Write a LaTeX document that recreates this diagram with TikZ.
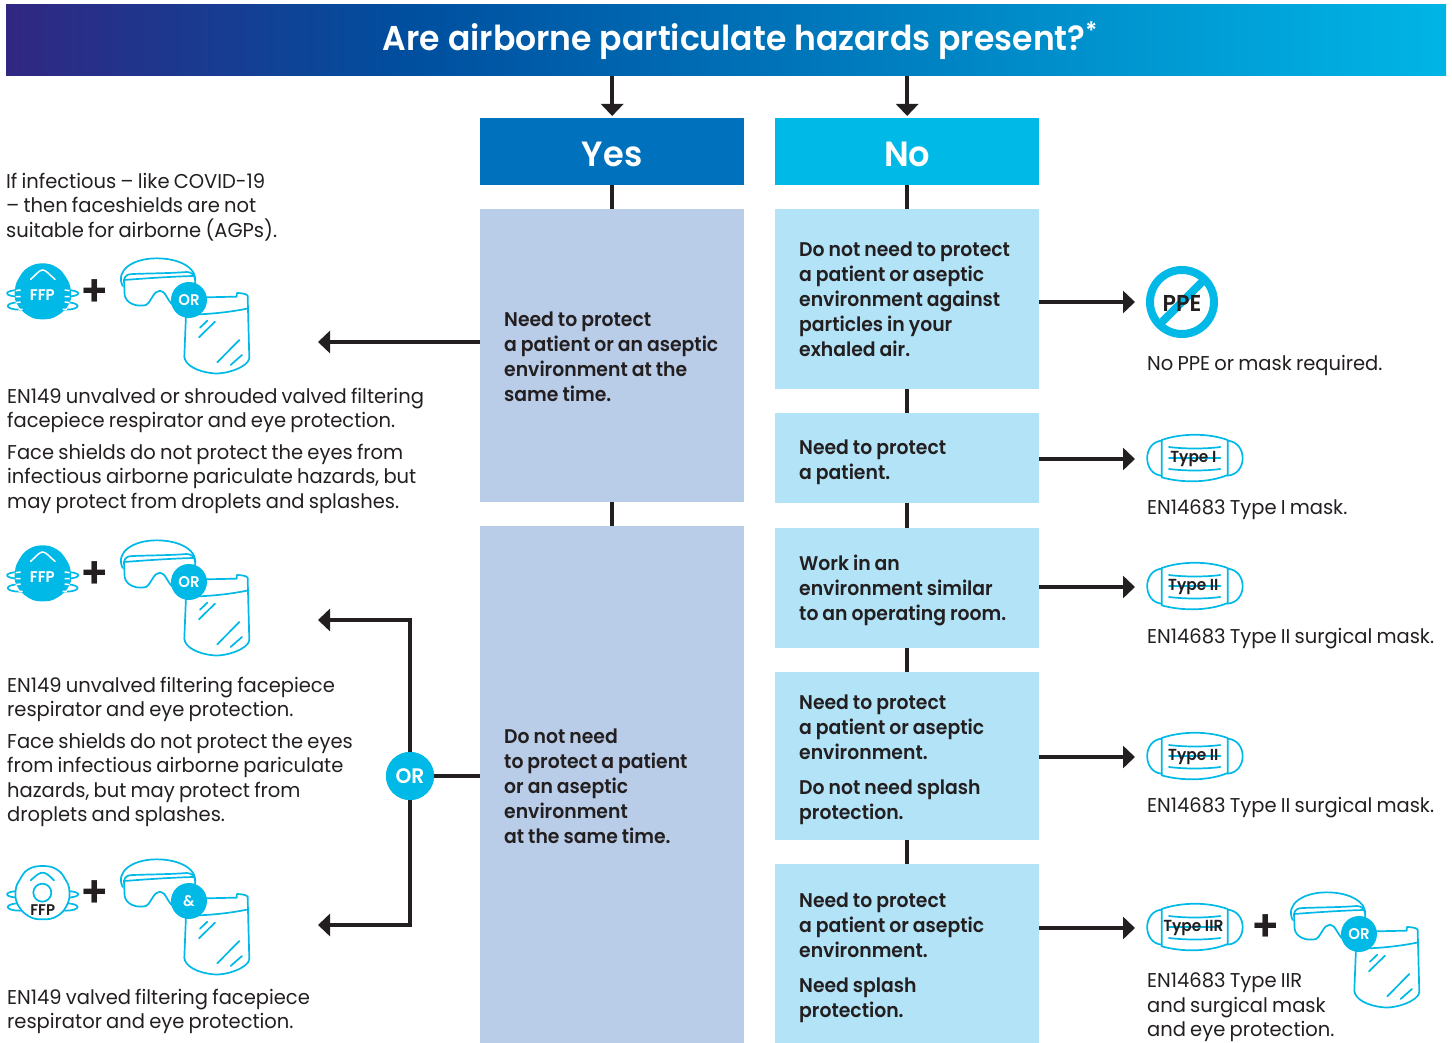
\documentclass[tikz,border=0pt]{standalone}
\usepackage{fontspec}
\setmainfont{Poppins}[FakeStretch=.975,BoldFont={Poppins SemiBold},BoldFeatures={FakeStretch=.96}]
\newfontfamily\boxfam{Poppins SemiBold}[FakeStretch=.95]
\usetikzlibrary{arrows.meta}
\definecolor{cy}{HTML}{00B9E7}
\definecolor{ink}{HTML}{231F20}
\definecolor{yesb}{HTML}{0071BC}
\definecolor{lblue}{HTML}{B9CDE9}
\definecolor{lcyan}{HTML}{B3E3F7}
\definecolor{hA}{HTML}{312782}
\definecolor{hB}{HTML}{004F9F}
\definecolor{hC}{HTML}{00B5E6}
\pgfdeclarehorizontalshading{hdr}{100bp}{color(0bp)=(hA);color(25bp)=(hA);color(39bp)=(hB);color(75bp)=(hC);color(100bp)=(hC)}
\newcommand{\bodyf}{\fontsize{20}{24.4}\selectfont\spaceskip=4.2pt\relax}
\newcommand{\boxf}{\boxfam\fontsize{19.8}{25}\selectfont}
% #1 = extra space above the lines: the lines go down by half of it
\newcommand{\boxtext}[2]{\hspace*{12pt}\parbox{228pt}{\raggedright\spaceskip=4pt\relax\vspace*{#1pt}#2}}
\tikzset{
 bodytxt/.style={anchor=north west,inner sep=0pt,align=left,text=ink,font=\bodyf},
 colbox/.style={minimum width=264pt,text width=240pt,inner xsep=12pt,inner ysep=0pt,align=left,text=ink,font=\boxf,anchor=north west},
 headbox/.style={minimum width=264pt,minimum height=67pt,inner sep=0pt,text height=29pt,text depth=0pt,text=white,anchor=north west,font=\fontsize{35}{40}\selectfont\bfseries},
 link/.style={draw=ink,line width=4pt},
 arrowlink/.style={link,-{Triangle[length=12pt,width=22pt]}},
 icon/.style={draw=cy,line width=1.7pt,line join=round,line cap=round},
 plussign/.style={inner sep=0pt,text=ink,font=\fontsize{44}{44}\selectfont\bfseries},
 pics/ffpears/.style={code={
  \draw[icon] (58,130) ellipse[x radius=37,y radius=10];
  \draw[icon] (58,168) ellipse[x radius=35,y radius=11];
  \draw[icon] (198,130) ellipse[x radius=37,y radius=10];
  \draw[icon] (198,168) ellipse[x radius=35,y radius=11];
 }},
 pics/ffpfull/.style={code={\begin{scope}[x=.3333pt,y=-.3333pt]
  \pic {ffpears};
  \fill[cy] plot[smooth cycle,tension=.75] coordinates {(128,40)(170,52)(198,82)(212,118)(208,160)(172,197)(128,208)(85,197)(50,160)(45,118)(58,82)(85,52)};
  \draw[white,line width=1.5pt,line cap=round] (92,88) .. controls (110,72) and (118,60) .. (128,60) .. controls (138,60) and (146,72) .. (165,88);
  \draw[white,line width=1.5pt] (47,122)--(62,120) (47,140)--(62,140) (47,158)--(62,156) (55,178)--(68,178) (209,122)--(194,120) (209,140)--(194,140) (209,158)--(194,156) (201,178)--(188,178);
  \node[inner sep=0pt,text=white,font=\fontsize{15.5}{16}\selectfont\bfseries] (ffplabel) at (127,135) {FFP};
 \end{scope}}},
 pics/ffpvalve/.style={code={\begin{scope}[x=.3333pt,y=-.3333pt]
  \pic {ffpears};
  \draw[icon,fill=white] plot[smooth cycle,tension=.75] coordinates {(128,45)(170,55)(196,85)(208,118)(202,160)(172,195)(128,205)(85,195)(53,160)(47,118)(60,85)(85,55)};
  \draw[icon] (92,88) .. controls (110,72) and (118,65) .. (128,65) .. controls (138,65) and (146,72) .. (162,88);
  \draw[icon] (127,125) circle[radius=27];
  \node[inner sep=0pt,text=ink,font=\fontsize{15.5}{16}\selectfont\bfseries] (ffplabel) at (128,176) {FFP};
 \end{scope}}},
 pics/gearset/.style={code={\begin{scope}[x=.3333pt,y=-.3333pt]
  \draw[icon] (368,108) .. controls (345,60) and (400,25) .. (470,25) .. controls (540,25) and (595,55) .. (585,100);
  \draw[icon] (372,90) .. controls (375,75) and (385,72) .. (400,72) .. controls (450,70) and (510,70) .. (560,66) .. controls (575,66) and (585,75) .. (585,90);
  \draw[icon] (372,90) .. controls (400,88) and (500,80) .. (580,78);
  \draw[icon] (372,90) -- (374,135) .. controls (378,160) and (410,172) .. (438,165) .. controls (455,155) and (460,122) .. (480,122) .. controls (498,122) and (500,155) .. (530,175);
  \draw[icon] (615,142) -- (710,140) -- (711,129) .. controls (725,129) and (740,132) .. (743,137) -- (748,325) .. controls (745,350) and (680,374) .. (640,370) .. controls (590,365) and (555,345) .. (553,320) -- (558,195);
  \draw[icon] (560,193) .. controls (620,195) and (700,185) .. (745,175);
  \draw[icon] (600,233)--(622,212) (597,262)--(645,215) (652,337)--(718,270) (692,345)--(726,315);
  \node[circle,fill=cy,minimum size=36pt,inner sep=0pt,text=white,font=\fontsize{15.5}{16}\selectfont\bfseries] (gearlabel) at (567,150) {#1};
 \end{scope}}},
 pics/surgical/.style={code={\begin{scope}[x=.3333pt,y=-.3333pt]
  \draw[icon] (-100,-55) .. controls (-158,-50) and (-158,45) .. (-100,50);
  \draw[icon] (98,-55) .. controls (158,-50) and (158,45) .. (98,50);
  \draw[icon] (-100,-57) .. controls (-40,-78) and (40,-78) .. (98,-57) -- (98,48) .. controls (40,72) and (-40,72) .. (-100,55) -- cycle;
  \draw[icon] (-78,-36) .. controls (-30,-30) and (30,-30) .. (76,-36);
  \draw[icon] (-78,-3) -- (76,-3);
  \draw[icon] (-78,30) .. controls (-30,36) and (30,36) .. (76,30);
  \node[inner sep=0pt,text=ink,font=\fontsize{16}{16}\selectfont\bfseries] (masklabel) at (-5,-1) {#1};
 \end{scope}}},
}
\begin{document}
\begin{tikzpicture}[x=1pt,y=-1pt]
\useasboundingbox (0,0) rectangle (1452,1043);
% header
\node[anchor=north west,minimum width=1440pt,minimum height=71.5pt,inner sep=0pt,text height=22pt,text depth=0pt,shading=hdr,text=white,font=\fontsize{34.4}{36}\selectfont\bfseries] (title) at (6,4) {\hspace*{28pt}Are airborne particulate hazards present?\raisebox{.32em}{\fontsize{24}{24}\selectfont *}};
\node[headbox,fill=yesb] (yes) at (480,118) {Yes};
\node[headbox,fill=cy] (no) at (775,118) {No};
% columns
\node[colbox,fill=lblue,minimum height=293pt] (y1) at (480,209) {\boxtext{2}{Need to protect\\a patient or an aseptic\\environment at the\\same time.}};
\node[colbox,fill=lblue,minimum height=517pt] (y2) at (480,526) {\boxtext{3}{Do not need\\to protect a patient\\or an aseptic\\environment\\at the same time.}};
\node[colbox,fill=lcyan,minimum height=180pt] (n1) at (775,209) {\boxtext{1}{Do not need to protect\\a patient or aseptic\\environment against\\particles in your\\exhaled air.}};
\node[colbox,fill=lcyan,minimum height=90pt] (n2) at (775,413) {\boxtext{8}{Need to protect\\a patient.}};
\node[colbox,fill=lcyan,minimum height=120pt] (n3) at (775,528) {\boxtext{5}{Work in an\\environment similar\\to an operating room.}};
\node[colbox,fill=lcyan,minimum height=168pt] (n4) at (775,672) {\boxtext{8}{Need to protect\\a patient or aseptic\\environment.\\[10pt]Do not need splash\\protection.}};
\node[colbox,fill=lcyan,minimum height=179pt] (n5) at (775,864) {\boxtext{8}{Need to protect\\a patient or aseptic\\environment.\\[10pt]Need splash\\protection.}};
% vertical links
\draw[arrowlink,shorten >=2pt] (yes.north |- title.south) -- (yes.north);
\draw[arrowlink,shorten >=2pt] (no.north |- title.south) -- (no.north);
\draw[link] (yes) -- (y1);
\draw[link] (y1) -- (y2);
\draw[link] (no) -- (n1);
\draw[link] (n1) -- (n2);
\draw[link] (n2) -- (n3);
\draw[link] (n3) -- (n4);
\draw[link] (n4) -- (n5);
% right arrows
\coordinate (r1) at (1135,302);
\coordinate (r2) at (1135,459);
\coordinate (r3) at (1135,587);
\coordinate (r4) at (1135,757);
\coordinate (r5) at (1135,928);
\draw[arrowlink] (n1.east |- r1) -- (r1);
\draw[arrowlink] (n2.east |- r2) -- (r2);
\draw[arrowlink] (n3.east |- r3) -- (r3);
\draw[arrowlink] (n4.east |- r4) -- (r4);
\draw[arrowlink] (n5.east |- r5) -- (r5);
% left arrows
\coordinate (l1) at (318,342);
\coordinate (l2) at (318,620);
\coordinate (l3) at (318,925);
\node[circle,fill=cy,minimum size=48pt,inner sep=0pt] (orn) at (410,776) {};
\draw[arrowlink] (y1.west |- l1) -- (l1);
\draw[link] (y2.west |- orn) -- (orn);
\draw[arrowlink] (orn) |- (l2);
\draw[arrowlink] (orn) |- (l3);
\node[circle,fill=cy,minimum size=48pt,inner sep=0pt,text=white,font=\fontsize{21}{22}\selectfont\bfseries] (ornlabel) at (orn) {OR};
% left icons
\pic at (0,250) {ffpfull};
\pic at (0,250) {gearset=OR};
\pic at (0,532) {ffpfull};
\pic at (0,532) {gearset=OR};
\pic at (0,851) {ffpvalve};
\pic at (0,851) {gearset=\&};
\node[plussign] (plusa) at (95,293) {+};
\node[plussign] (plusb) at (95,575) {+};
\node[plussign] (plusc) at (95,894) {+};
% left text
\node[bodytxt] (t0) at (6,173) {If infectious – like COVID-19\\– then faceshields are not\\suitable for airborne (AGPs).};
\node[bodytxt] (t1) at (7,388) {EN149 unvalved or shrouded valved filtering\\facepiece respirator and eye protection.};
\node[bodytxt] (t2) at (7,444) {Face shields do not protect the eyes from\\infectious airborne pariculate hazards, but\\may protect from droplets and splashes.};
\node[bodytxt] (t3) at (7,677) {EN149 unvalved filtering facepiece\\respirator and eye protection.};
\node[bodytxt] (t4) at (7,733) {Face shields do not protect the eyes\\from infectious airborne pariculate\\hazards, but may protect from\\droplets and splashes.};
\node[bodytxt] (t5) at (7,989) {EN149 valved filtering facepiece\\respirator and eye protection.};
% right icons
\draw[draw=cy,line width=8pt] (1182,302) circle[radius=32];
\draw[draw=cy,line width=8pt] (1159,325) -- (1205,279);
\node[inner sep=0pt,text=ink,font=\fontsize{23}{24}\selectfont\bfseries] (ppe) at (1182,303) {PPE};
\pic at (1195,459) {surgical={Type I}};
\pic at (1195,587) {surgical={Type II}};
\pic at (1195,757) {surgical={Type II}};
\pic at (1195,928) {surgical={Type IIR}};
\node[plussign] (plusd) at (1266,928) {+};
\pic at (1170,884) {gearset=OR};
% right text
\node[bodytxt] (u1) at (1147,355) {No PPE or mask required.};
\node[bodytxt] (u2) at (1147,499) {EN14683 Type I mask.};
\node[bodytxt] (u3) at (1147,628) {EN14683 Type II surgical mask.};
\node[bodytxt] (u4) at (1147,797) {EN14683 Type II surgical mask.};
\node[bodytxt] (u5) at (1147,973) {EN14683 Type IIR\\and surgical mask\\and eye protection.};
\end{tikzpicture}
\end{document}
